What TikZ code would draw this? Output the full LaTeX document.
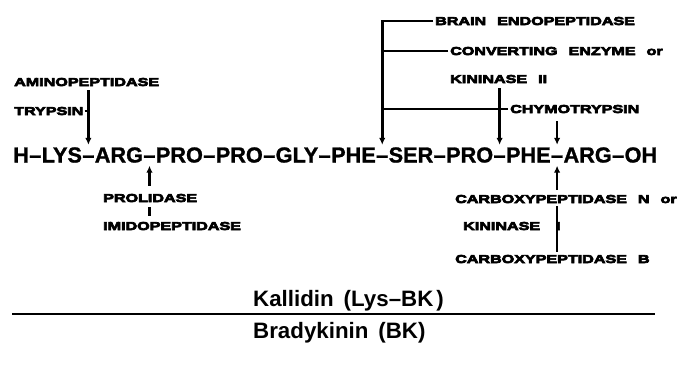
\documentclass[tikz,border=0pt]{standalone}
\usepackage{fontspec}
\usetikzlibrary{arrows.meta,calc}
\newfontfamily\seqfont{Liberation Sans Bold}[FakeBold=1.2]
\newfontfamily\enzfont{Liberation Sans Bold}[FakeStretch=1.4,FakeBold=6]
\newfontfamily\pepfont{Liberation Sans Bold}
\newcommand\wsp{\hspace{11pt}}

\tikzset{
  res/.style={inner sep=0pt, anchor=base west, text height=15.5pt, text depth=0pt,
              font=\seqfont\fontsize{21.7}{26}\selectfont},
  enz/.style={inner sep=0pt, anchor=base west, text height=8.2pt, text depth=0pt,
              font=\enzfont\fontsize{11.5}{14}\selectfont},
  peptide/.style={inner sep=0pt, anchor=base west,
              font=\pepfont\fontsize{22.3}{27}\selectfont},
  wire/.style={line width=2.6pt},
  cut/.style={wire, -{Latex[length=7pt,width=6.5pt]}},
}

\begin{document}
\begin{tikzpicture}[x=1pt,y=-1pt]
\useasboundingbox (0,0) rectangle (679,384);

% ---- amino-acid sequence ----
\node[res] (r1)  at (13,162.5)      {H};
\node[res] (d1)  at (r1.base east)  {–};
\node[res] (r2)  at (d1.base east)  {LYS};
\node[res] (d2)  at (r2.base east)  {–};
\node[res] (r3)  at (d2.base east)  {ARG};
\node[res] (d3)  at (r3.base east)  {–};
\node[res] (r4)  at (d3.base east)  {PRO};
\node[res] (d4)  at (r4.base east)  {–};
\node[res] (r5)  at (d4.base east)  {PRO};
\node[res] (d5)  at (r5.base east)  {–};
\node[res] (r6)  at (d5.base east)  {GLY};
\node[res] (d6)  at (r6.base east)  {–};
\node[res] (r7)  at (d6.base east)  {PHE};
\node[res] (d7)  at (r7.base east)  {–};
\node[res] (r8)  at (d7.base east)  {SER};
\node[res] (d8)  at (r8.base east)  {–};
\node[res] (r9)  at (d8.base east)  {PRO};
\node[res] (d9)  at (r9.base east)  {–};
\node[res] (r10) at (d9.base east)  {PHE};
\node[res] (d10) at (r10.base east) {–};
\node[res] (r11) at (d10.base east) {ARG};
\node[res] (d11) at (r11.base east) {–};
\node[res] (r12) at (d11.base east) {OH};

% ---- enzymes above the chain ----
\node[enz] (amino) at (14,86)   {AMINOPEPTIDASE};
\node[enz] (tryp)  at (14,115)  {TRYPSIN};
\node[enz] (brain) at (435,25)  {BRAIN\wsp ENDOPEPTIDASE};
\node[enz] (conv)  at (450,55)  {CONVERTING\wsp ENZYME\wsp or};
\node[enz] (kin2)  at (450,83)  {KININASE\wsp II};
\node[enz] (chymo) at (510,113) {CHYMOTRYPSIN};

% ---- enzymes below the chain ----
\node[enz] (prol)  at (103,202) {PROLIDASE};
\node[enz] (imido) at (103,230) {IMIDOPEPTIDASE};
\node[enz] (cpn)   at (455,203) {CARBOXYPEPTIDASE\wsp N\wsp or};
\node[enz] (kin1)  at (463,230) {KININASE};
\node[enz] (kin1n) at (556,230) {I};
\node[enz] (cpb)   at (455,263) {CARBOXYPEPTIDASE\wsp B};

% ---- cleavage sites from above ----
\draw[cut] ($(amino.south -| d2.north)+(0,4)$) -- ($(d2.north)+(0,-2)$);
\draw[wire] ($(tryp.east)+(1,0)$) -- (tryp.east -| d2.north);
\draw[cut] ($(brain.west)+(-2,0)$) -- (brain.west -| d7.north) -- ($(d7.north)+(0,-2)$);
\draw[wire] ($(conv.west)+(-2,0)$) -- (conv.west -| d7.north);
\draw[cut] ($(kin2.south -| d9.north)+(0,5)$) -- ($(d9.north)+(0,-2)$);
\draw[wire] (chymo.west -| d7.north) -- ($(chymo.west)+(-2,0)$);
\draw[cut] ($(chymo.south -| d10.north)+(0,8)$) -- ($(d10.north)+(0,-2)$);

% ---- cleavage sites from below ----
\draw[cut] ($(prol.north -| d3.south)+(0,-8)$) -- ($(d3.south)+(0,3)$);
\draw[wire] ($(prol.south -| d3.south)+(0,5)$) -- ($(imido.north -| d3.south)+(0,-6)$);
\draw[cut] ($(cpn.north -| d10.south)+(0,-5)$) -- ($(d10.south)+(0,3)$);
\draw[wire] ($(cpn.south -| d10.south)+(0,3)$) -- ($(cpb.north -| d10.south)+(0,-3)$);

% ---- peptide names ----
\node[peptide] (kall) at (253,306) {Kallidin\hspace{10pt}(Lys–BK\hspace{3pt})};
\coordinate (ruleL) at (12,314);
\coordinate (ruleR) at (655,314);
\draw[line width=2.4pt] (ruleL) -- (ruleR);
\node[peptide] (brady) at (253,338) {Bradykinin\hspace{10pt}(BK)};
\end{tikzpicture}
\end{document}
